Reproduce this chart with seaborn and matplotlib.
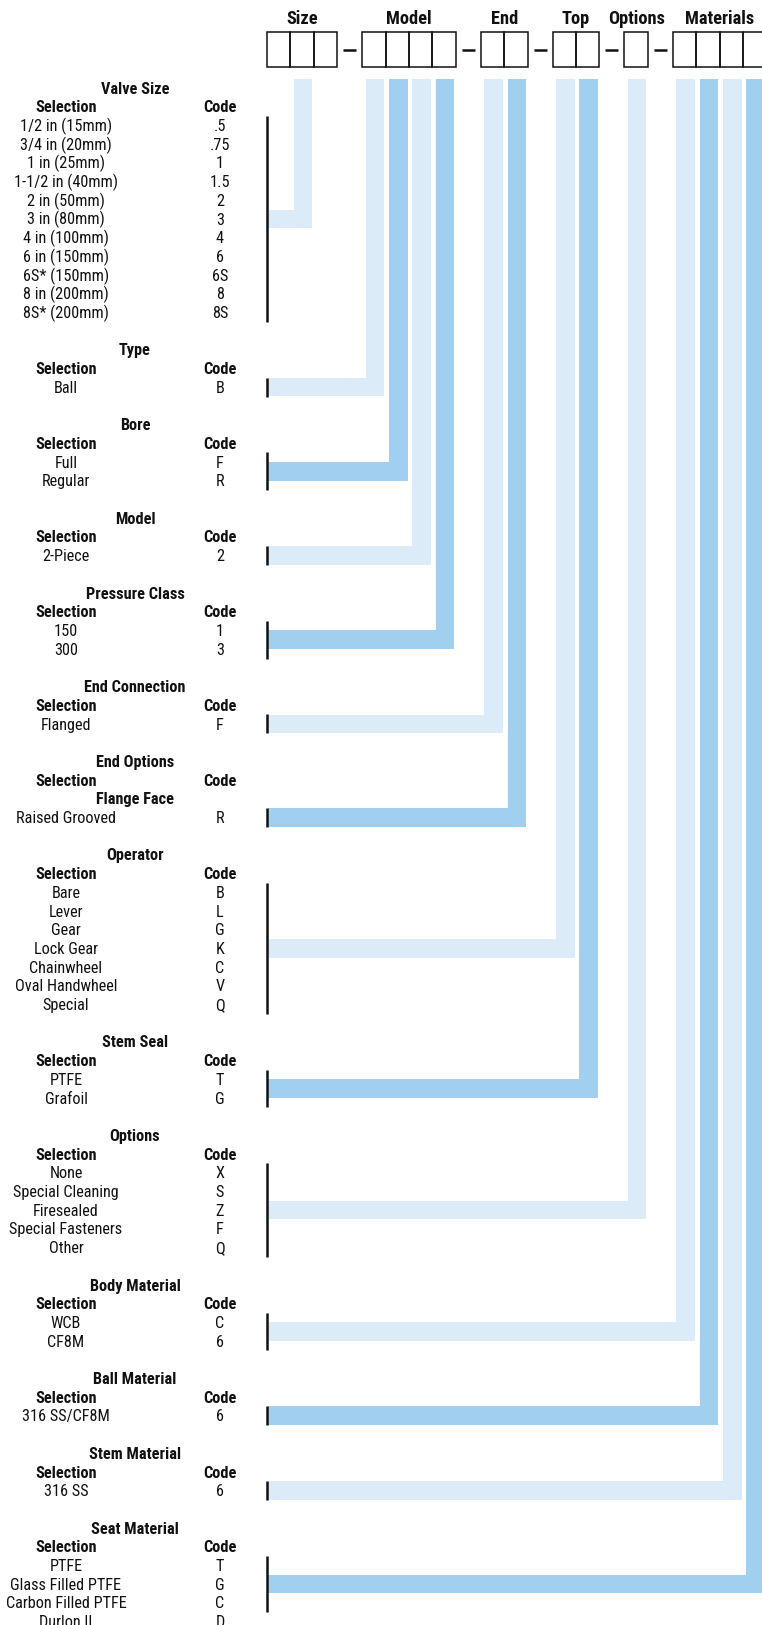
import matplotlib.pyplot as plt
from matplotlib import font_manager
import seaborn as sns

sns.set_style("white")

# pick a narrow face if one is installed
installed = {f.name: f.stretch for f in font_manager.fontManager.ttflist}
narrow = [f.name for f in font_manager.fontManager.ttflist
          if str(f.stretch) in ("condensed", "semi-condensed", "extra-condensed")
          or "Narrow" in f.name or "Condensed" in f.name]
candidates = ["Liberation Sans Narrow", "Roboto Condensed", "DejaVu Sans Condensed"] + narrow + ["Roboto"]
face = next((c for c in candidates if c in installed), "DejaVu Sans")
plt.rcParams["font.family"] = [face, "DejaVu Sans"]
if face == "DejaVu Sans" or str(installed.get(face)) == "condensed":
    plt.rcParams["font.stretch"] = "condensed"

# groups of boxes in the order code
group_names = ["Size", "Model", "End", "Top", "Options", "Materials"]
group_cells = [3, 4, 2, 2, 1, 4]

# selection tables
section_titles = ["Valve Size", "Type", "Bore", "Model", "Pressure Class",
                  "End Connection", "End Options", "Operator", "Stem Seal",
                  "Options", "Body Material", "Ball Material", "Stem Material",
                  "Seat Material"]
section_subheads = [None, None, None, None, None, None, "Flange Face",
                    None, None, None, None, None, None, None]
section_selections = [
    ["1/2 in (15mm)", "3/4 in (20mm)", "1 in (25mm)", "1-1/2 in (40mm)",
     "2 in (50mm)", "3 in (80mm)", "4 in (100mm)", "6 in (150mm)",
     "6S* (150mm)", "8 in (200mm)", "8S* (200mm)"],
    ["Ball"],
    ["Full", "Regular"],
    ["2-Piece"],
    ["150", "300"],
    ["Flanged"],
    ["Raised Grooved"],
    ["Bare", "Lever", "Gear", "Lock Gear", "Chainwheel", "Oval Handwheel", "Special"],
    ["PTFE", "Grafoil"],
    ["None", "Special Cleaning", "Firesealed", "Special Fasteners", "Other"],
    ["WCB", "CF8M"],
    ["316 SS/CF8M"],
    ["316 SS"],
    ["PTFE", "Glass Filled PTFE", "Carbon Filled PTFE", "Durlon II"],
]
section_codes = [
    [".5", ".75", "1", "1.5", "2", "3", "4", "6", "6S", "8", "8S"],
    ["B"],
    ["F", "R"],
    ["2"],
    ["1", "3"],
    ["F"],
    ["R"],
    ["B", "L", "G", "K", "C", "V", "Q"],
    ["T", "G"],
    ["X", "S", "Z", "F", "Q"],
    ["C", "6"],
    ["6"],
    ["6"],
    ["T", "G", "C", "D"],
]
# which box each table feeds: (group index, cell index)
section_slots = [(0, 1), (1, 0), (1, 1), (1, 2), (1, 3), (2, 0), (2, 1),
                 (3, 0), (3, 1), (4, 0), (5, 0), (5, 1), (5, 2), (5, 3)]
section_shades = ["light", "light", "dark", "light", "dark", "light", "dark",
                  "light", "dark", "light", "light", "dark", "light", "dark"]
bracket_rows = [11, 1, 2, 1, 2, 1, 1, 7, 2, 5, 2, 1, 1, 3]

shade_colors = {"light": "#DBECF8", "dark": "#A0CFEF"}

# layout (pixels)
W, H = 762, 1625
cell_w, gap = 23.4, 25.0
box_x0, box_top, box_bot = 267, 32, 67
bar_w, bar_top = 18.6, 79
pitch = 18.7
sel_x, code_x, title_x = 66, 220, 135
tick_x, hbar_left = 267, 268
half_cap = 5.7
fs, fs_head = 11.7, 13.2
ink = "#111111"

fig = plt.figure(figsize=(W / 100, H / 100), dpi=100)
ax = fig.add_axes([0, 0, 1, 1])
ax.set_xlim(0, W)
ax.set_ylim(H, 0)
ax.axis("off")

# header boxes
group_x = []
x = box_x0
for gi, (name, n) in enumerate(zip(group_names, group_cells)):
    group_x.append(x)
    for c in range(n):
        ax.add_patch(plt.Rectangle((x + c * cell_w, box_top), cell_w, box_bot - box_top,
                                   fill=False, edgecolor=ink, lw=1.1))
    ax.text(x + n * cell_w / 2, 17 + 6.5, name, ha="center", va="baseline",
            fontsize=fs_head, fontweight="bold", color=ink)
    if gi < len(group_names) - 1:
        ax.hlines((box_top + box_bot) / 2, x + n * cell_w + 6, x + n * cell_w + gap - 6,
                  color=ink, lw=1.8)
    x += n * cell_w + gap

# tables and connectors
y = 88
for i, title in enumerate(section_titles):
    ax.text(title_x, y + half_cap, title, ha="center", va="baseline",
            fontsize=fs, fontweight="bold", color=ink)
    y += pitch
    ax.text(sel_x, y + half_cap, "Selection", ha="center", va="baseline",
            fontsize=fs, fontweight="bold", color=ink)
    ax.text(code_x, y + half_cap, "Code", ha="center", va="baseline",
            fontsize=fs, fontweight="bold", color=ink)
    if section_subheads[i]:
        y += pitch
        ax.text(title_x, y + half_cap, section_subheads[i], ha="center", va="baseline",
                fontsize=fs, fontweight="bold", color=ink)
    row_y = []
    for sel, code in zip(section_selections[i], section_codes[i]):
        y += pitch
        row_y.append(y)
        ax.text(sel_x, y + half_cap, sel, ha="center", va="baseline",
                fontsize=fs, color=ink)
        ax.text(code_x, y + half_cap, code, ha="center", va="baseline",
                fontsize=fs, color=ink)

    # bracket and connector
    b0 = row_y[0] - 9.5
    b1 = row_y[bracket_rows[i] - 1] + 9.5
    ax.vlines(tick_x, b0, b1, color=ink, lw=1.8)
    yc = (b0 + b1) / 2
    g, c = section_slots[i]
    xc = group_x[g] + (c + 0.5) * cell_w + 1
    col = shade_colors[section_shades[i]]
    ax.bar(xc, yc + bar_w / 2 - bar_top, width=bar_w, bottom=bar_top,
           color=col, linewidth=0)
    ax.barh(yc, xc + bar_w / 2 - hbar_left, height=bar_w, left=hbar_left,
            color=col, linewidth=0)

    y += 2 * pitch

fig.savefig("out.png", dpi=100)
